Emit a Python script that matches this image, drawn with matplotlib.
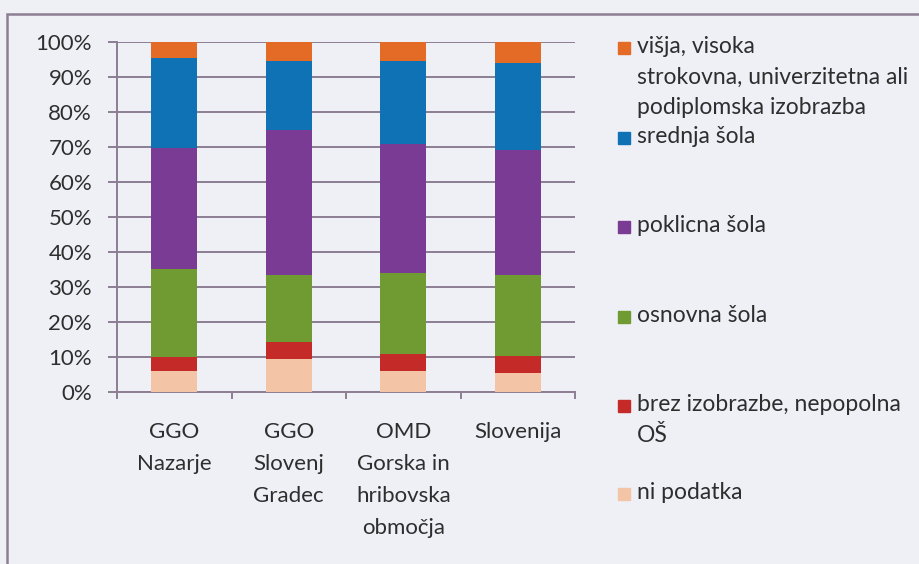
import matplotlib
matplotlib.use('Agg')
from matplotlib import pyplot as plt
from matplotlib.patches import Rectangle
from matplotlib.transforms import blended_transform_factory
import numpy as np

plt.rcParams['font.family'] = ['Lato', 'DejaVu Sans']

categories = ['GGO\nNazarje', 'GGO\nSlovenj\nGradec', 'OMD\nGorska in\nhribovska\nobmočja', 'Slovenija']

# shares in %, bottom to top
ni_podatka = [5.9, 9.4, 6.1, 5.3]
brez_izobrazbe = [4.0, 4.8, 4.9, 5.1]
osnovna = [25.3, 19.1, 23.0, 23.0]
poklicna = [34.5, 41.6, 36.9, 35.8]
srednja = [25.8, 19.6, 23.8, 24.8]
visja = [4.5, 5.5, 5.3, 6.0]

series = [
    ('ni podatka', ni_podatka, '#f4c4a6'),
    ('brez izobrazbe, nepopolna\nOŠ', brez_izobrazbe, '#c42a28'),
    ('osnovna šola', osnovna, '#6f9b32'),
    ('poklicna šola', poklicna, '#7a3b94'),
    ('srednja šola', srednja, '#0f72b4'),
    ('višja, visoka\nstrokovna, univerzitetna ali\npodiplomska izobrazba', visja, '#e46b26'),
]

bg = '#eef0f6'
grid_c = '#8d7e93'
text_c = '#2e2e2e'

fig = plt.figure(figsize=(9.19, 5.64), dpi=100, facecolor=bg)
W, H = 919, 564
ax = fig.add_axes([117 / W, 1 - 392 / H, 458 / W, 350 / H], facecolor=bg)

x = np.arange(len(categories))
bottom = np.zeros(len(categories))
for name, vals, col in series:
    ax.bar(x, vals, 0.4, bottom=bottom, color=col, zorder=3)
    bottom += np.array(vals)

ax.set_xlim(-0.5, len(categories) - 0.5)
ax.set_ylim(0, 100)
ax.set_yticks(np.arange(0, 101, 10))
ax.set_yticklabels([f'{v}%' for v in range(0, 101, 10)])
ax.yaxis.grid(True, color=grid_c, lw=1.4, zorder=0)
ax.set_xticks(np.arange(-0.5, len(categories)))
ax.set_xticklabels([])
ax.tick_params(axis='x', length=5, width=1.4, color=grid_c, direction='out')
ax.tick_params(axis='y', length=6.5, width=1.4, color=grid_c, pad=11.5, labelsize=16, labelcolor=text_c)
for s in ['top', 'right']:
    ax.spines[s].set_visible(False)
for s in ['left', 'bottom']:
    ax.spines[s].set_color(grid_c)
    ax.spines[s].set_linewidth(1.4)

# category labels under the bars
label_tr = blended_transform_factory(ax.transData, fig.transFigure)
for xi, lab in zip(x, categories):
    ax.text(xi, 1 - 422 / H, lab, transform=label_tr,
            ha='center', va='top', fontsize=16, color=text_c, linespacing=1.75)

# chart frame (cropped at right and bottom)
fig.patches.append(Rectangle((7 / W, -0.1), 1.2, 1 - 14 / H + 0.1, transform=fig.transFigure,
                             fill=False, edgecolor=grid_c, lw=1.8))

# legend, drawn by hand so the marker sits on the first line
legend_y = [493, 405, 316, 226, 137, 47]
for (name, vals, col), yy in zip(series, legend_y):
    fig.patches.append(Rectangle((618 / W, 1 - (yy + 7) / H), 12 / W, 12 / H,
                                 transform=fig.transFigure, color=col))
    fig.text(637 / W, 1 - (yy - 11) / H, name, fontsize=16.5, color=text_c,
             va='top', ha='left', linespacing=1.57)

fig.savefig('out.png', dpi=100, facecolor=bg)
